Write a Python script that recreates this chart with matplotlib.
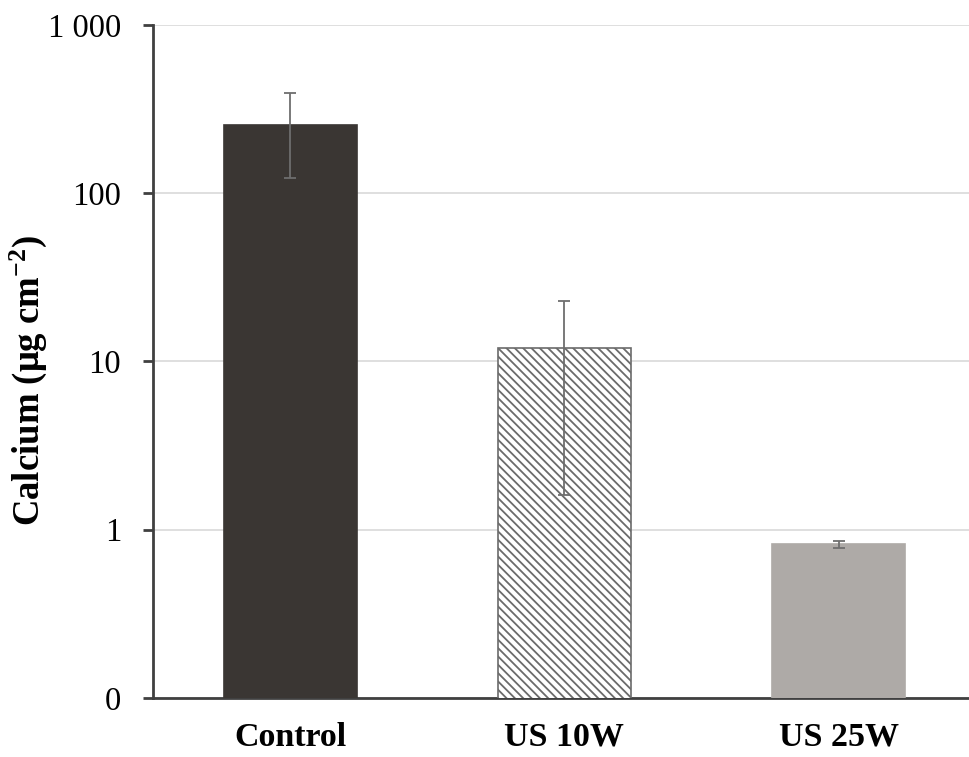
import matplotlib
matplotlib.use("Agg")
import matplotlib.pyplot as plt
from matplotlib.ticker import FixedLocator, NullLocator

categories = ["Control", "US 10W", "US 25W"]
values = [255, 12.1, 0.82]
err_low = [124, 1.6, 0.78]
err_high = [395, 23, 0.86]
ytick_values = [0.1, 1, 10, 100, 1000]
ytick_labels = ["0", "1", "10", "100", "1 000"]

plt.rcParams["hatch.linewidth"] = 1.3
plt.rcParams["hatch.color"] = "#555555"
plt.rcParams["font.family"] = ["Liberation Serif", "DejaVu Serif"]
plt.rcParams["mathtext.fontset"] = "custom"
plt.rcParams["mathtext.rm"] = "Liberation Serif"
plt.rcParams["mathtext.bf"] = "Liberation Serif:bold"
plt.rcParams["mathtext.default"] = "bf"

fig = plt.figure(figsize=(9.69, 7.57), dpi=100)
ax = fig.add_axes([0.158, 0.078, 0.842, 0.889])

x = list(range(len(categories)))
facecolors = ["#3a3633", "white", "#aeaaa7"]
edgecolors = ["#3a3633", "#6b6b6b", "#aeaaa7"]
hatches = [None, "\\\\\\\\", None]
for i in x:
    ax.bar(i, values[i], width=0.485, color=facecolors[i], edgecolor=edgecolors[i],
           hatch=hatches[i], linewidth=1.2, zorder=3)

yerr = [[v - l for v, l in zip(values, err_low)], [h - v for v, h in zip(values, err_high)]]
ax.errorbar(x, values, yerr=yerr, fmt="none", ecolor="#6e6e6e", elinewidth=1.3,
            capsize=4, capthick=1.3, zorder=4)

ax.set_yscale("log")
ax.set_ylim(0.1, 1000)
ax.set_xlim(-0.5, 2.476)
ax.yaxis.set_major_locator(FixedLocator(ytick_values))
ax.yaxis.set_minor_locator(NullLocator())
ax.set_yticklabels(ytick_labels)
ax.set_xticks(x)
ax.set_xticklabels(categories, fontweight="bold")

ax.grid(axis="y", color="#d9d9d9", linewidth=1.2, zorder=0)
ax.set_axisbelow(True)
for s in ["top", "right"]:
    ax.spines[s].set_visible(False)
for s in ["left", "bottom"]:
    ax.spines[s].set_color("#404040")
    ax.spines[s].set_linewidth(2)

ax.tick_params(axis="y", length=7, width=2, color="#404040", labelsize=23.5, pad=16)
ax.tick_params(axis="x", length=0, labelsize=24.5, pad=17)

ax.set_ylabel("Calcium (μg cm$^{-2}$)", fontsize=26.5, fontweight="bold")
ax.yaxis.set_label_coords(-0.127, 0.472)

fig.savefig("out.png", dpi=100)
